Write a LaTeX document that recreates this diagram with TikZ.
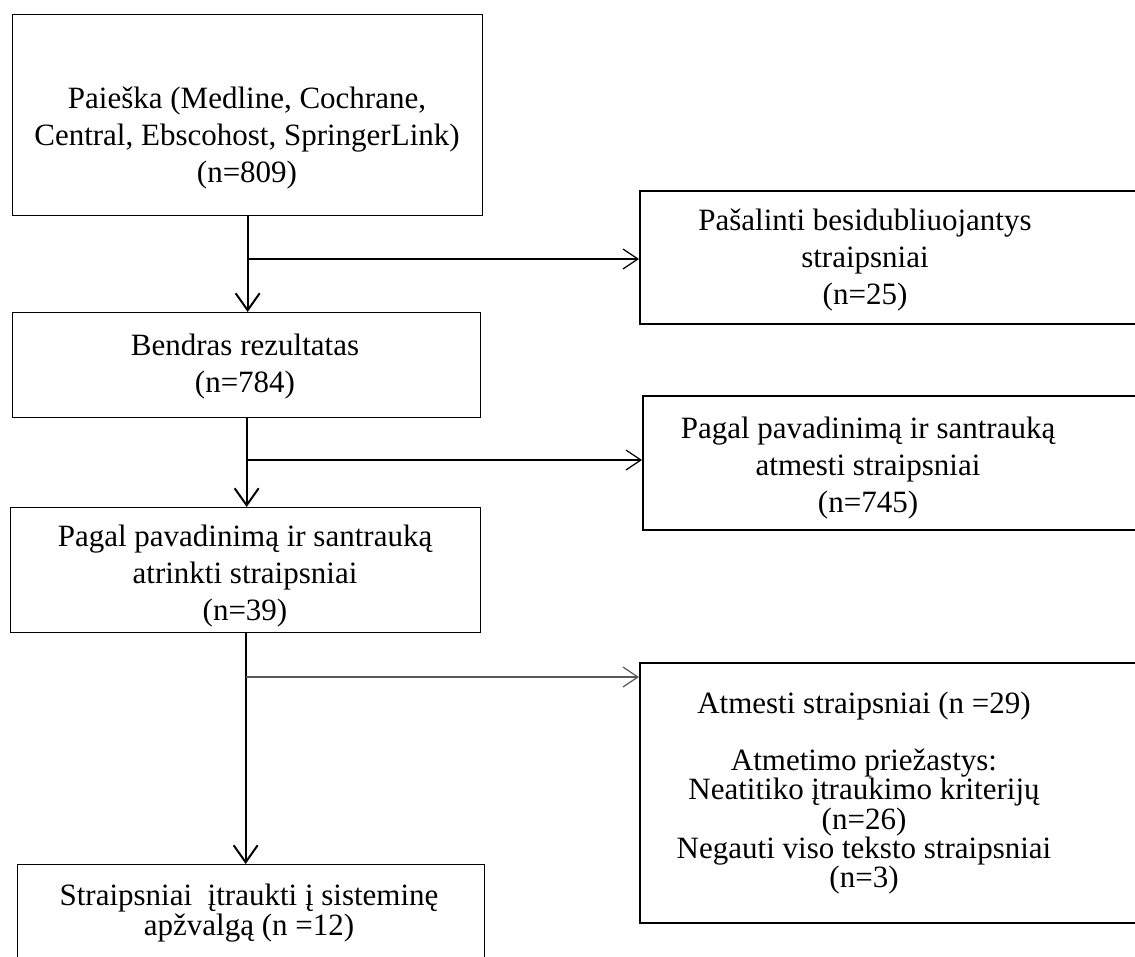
\documentclass[tikz,border=0pt]{standalone}
\usepackage{fontspec}
\setmainfont{Liberation Serif}
\usetikzlibrary{arrows.meta, positioning}

\tikzset{
  frame/.style={draw=black, line width=1.3pt, rectangle, inner sep=0pt, anchor=north west},
  framer/.style={frame, line width=2.2pt},
  txt/.style={align=center, inner sep=0pt, font=\fontsize{31}{37}\selectfont},
  flow/.style={draw=black, line width=2pt, -{Straight Barb[length=17pt,width=24pt,line width=2pt]}},
  side/.style={draw=black, line width=1.2pt, -{Straight Barb[length=15pt,width=20pt,line width=1.2pt]}},
}

\begin{document}
\begin{tikzpicture}[x=1pt, y=-1pt]
\clip (0,0) rectangle (1135,956);
\fill[white] (0,0) rectangle (1135,956);

% left column
\node[frame, minimum width=470pt, minimum height=201pt] (srch) at (12,14) {};
\node[frame, minimum width=468pt, minimum height=105pt] (bend) at (12,312) {};
\node[frame, minimum width=470pt, minimum height=125pt] (atr) at (10,507) {};
\node[frame, minimum width=467pt, minimum height=120pt] (incl) at (17,864) {};

% right column
\node[framer, minimum width=510pt, minimum height=133pt] (dup) at (639,190) {};
\node[framer, minimum width=510pt, minimum height=134pt] (ttl) at (642,395) {};
\node[framer, minimum width=510pt, minimum height=260pt] (rej) at (639,662) {};

% texts
\node[txt] (srch-t) at (247,138) {Paieška (Medline, Cochrane,\\Central, Ebscohost, SpringerLink)\\(n=809)};
\node[txt] (bend-t) at (245,367) {Bendras rezultatas\\(n=784)};
\node[txt] (atr-t) at (245,576) {Pagal pavadinimą ir santrauką\\atrinkti straipsniai\\(n=39)};
\node[txt, font=\fontsize{31}{28}\selectfont] (incl-t) at (249,913) {Straipsniai\ \ įtraukti į sisteminę\\apžvalgą (n =12)};
\node[txt] (dup-t) at (865,260) {Pašalinti besidubliuojantys\\straipsniai\\(n=25)};
\node[txt] (ttl-t) at (868,468) {Pagal pavadinimą ir santrauką\\atmesti straipsniai\\(n=745)};
\node[txt, font=\fontsize{31}{27}\selectfont] (rej-t) at (864,793) {Atmesti straipsniai (n =29)\\[28pt]
  Atmetimo priežastys:\\Neatitiko įtraukimo kriterijų\\(n=26)\\Negauti viso teksto straipsniai\\(n=3)};

% branch points
\coordinate (dupin) at (639,259);
\coordinate (ttlin) at (642,460);
\coordinate (rejin) at (639,677);

% connectors
\draw[flow] (srch.south) -- (srch.south |- bend.north);
\draw[side] (srch.south |- dupin) -- (dupin);
\draw[flow] (bend.south) -- (bend.south |- atr.north);
\draw[side] (bend.south |- ttlin) -- (ttlin);
\draw[flow] (atr.south) -- (atr.south |- incl.north);
\draw[side, draw=black!65] (atr.south |- rejin) -- (rejin);
\end{tikzpicture}
\end{document}
